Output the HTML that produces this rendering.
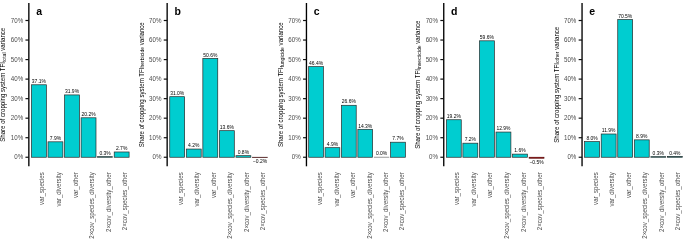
<!DOCTYPE html>
<html><head><meta charset="utf-8"><title>Variance shares</title>
<style>html,body{margin:0;padding:0;background:#fff}svg{display:block}text{font-family:"Liberation Sans",sans-serif}.k{stroke:#000;stroke-width:0px}.b{stroke:#000;stroke-width:0px}.g{stroke:#4d4d4d;stroke-width:0px}</style></head><body>
<svg width="685" height="242" viewBox="0 0 685 242">
<rect width="685" height="242" fill="#fff"/>
<g>
<rect x="31.45" y="84.78" width="14.90" height="72.47" fill="#00CDD0" stroke="#262626" stroke-width="0.68"/>
<text transform="translate(38.90,82.98) scale(0.9434,1)" font-size="5.300" text-anchor="middle" fill="#000" class="b">37.1%</text>
<rect x="48.00" y="141.82" width="14.90" height="15.43" fill="#00CDD0" stroke="#262626" stroke-width="0.68"/>
<text transform="translate(55.45,140.02) scale(0.9434,1)" font-size="5.300" text-anchor="middle" fill="#000" class="b">7.9%</text>
<rect x="64.55" y="94.93" width="14.90" height="62.32" fill="#00CDD0" stroke="#262626" stroke-width="0.68"/>
<text transform="translate(72.00,93.13) scale(0.9434,1)" font-size="5.300" text-anchor="middle" fill="#000" class="b">31.9%</text>
<rect x="81.10" y="117.79" width="14.90" height="39.46" fill="#00CDD0" stroke="#262626" stroke-width="0.68"/>
<text transform="translate(88.55,115.99) scale(0.9434,1)" font-size="5.300" text-anchor="middle" fill="#000" class="b">20.2%</text>
<rect x="97.65" y="156.66" width="14.90" height="0.59" fill="#00CDD0" stroke="#262626" stroke-width="0.68"/>
<text transform="translate(105.10,154.86) scale(0.9434,1)" font-size="5.300" text-anchor="middle" fill="#000" class="b">0.3%</text>
<rect x="114.20" y="151.98" width="14.90" height="5.27" fill="#00CDD0" stroke="#262626" stroke-width="0.68"/>
<text transform="translate(121.65,150.18) scale(0.9434,1)" font-size="5.300" text-anchor="middle" fill="#000" class="b">2.7%</text>
<line x1="28.85" y1="3" x2="28.85" y2="166.3" stroke="#000" stroke-width="1.35"/>
<line x1="25.45" y1="157.25" x2="28.85" y2="157.25" stroke="#111" stroke-width="1.2"/>
<text transform="translate(23.15,159.45) scale(0.9434,1)" font-size="6.572" text-anchor="end" fill="#4d4d4d" class="g">0%</text>
<line x1="25.45" y1="137.72" x2="28.85" y2="137.72" stroke="#111" stroke-width="1.2"/>
<text transform="translate(23.15,139.91) scale(0.9434,1)" font-size="6.572" text-anchor="end" fill="#4d4d4d" class="g">10%</text>
<line x1="25.45" y1="118.18" x2="28.85" y2="118.18" stroke="#111" stroke-width="1.2"/>
<text transform="translate(23.15,120.38) scale(0.9434,1)" font-size="6.572" text-anchor="end" fill="#4d4d4d" class="g">20%</text>
<line x1="25.45" y1="98.64" x2="28.85" y2="98.64" stroke="#111" stroke-width="1.2"/>
<text transform="translate(23.15,100.84) scale(0.9434,1)" font-size="6.572" text-anchor="end" fill="#4d4d4d" class="g">30%</text>
<line x1="25.45" y1="79.11" x2="28.85" y2="79.11" stroke="#111" stroke-width="1.2"/>
<text transform="translate(23.15,81.31) scale(0.9434,1)" font-size="6.572" text-anchor="end" fill="#4d4d4d" class="g">40%</text>
<line x1="25.45" y1="59.58" x2="28.85" y2="59.58" stroke="#111" stroke-width="1.2"/>
<text transform="translate(23.15,61.78) scale(0.9434,1)" font-size="6.572" text-anchor="end" fill="#4d4d4d" class="g">50%</text>
<line x1="25.45" y1="40.04" x2="28.85" y2="40.04" stroke="#111" stroke-width="1.2"/>
<text transform="translate(23.15,42.24) scale(0.9434,1)" font-size="6.572" text-anchor="end" fill="#4d4d4d" class="g">60%</text>
<line x1="25.45" y1="20.50" x2="28.85" y2="20.50" stroke="#111" stroke-width="1.2"/>
<text transform="translate(23.15,22.70) scale(0.9434,1)" font-size="6.572" text-anchor="end" fill="#4d4d4d" class="g">70%</text>
<text x="36.15" y="14.8" font-size="10.5" font-weight="bold" fill="#000">a</text>
<text transform="translate(5.30,84.75) rotate(-90) scale(0.9434,1)" font-size="6.455" text-anchor="middle" fill="#000" class="k">Share of cropping system TFI<tspan font-size="5.406" dy="0.85">total</tspan><tspan dy="-0.85"> variance</tspan></text>
<text transform="translate(44.40,172.30) rotate(-90) scale(0.9434,1)" font-size="6.487" text-anchor="end" fill="#4d4d4d" class="g">var_species</text>
<text transform="translate(60.95,172.30) rotate(-90) scale(0.9434,1)" font-size="6.487" text-anchor="end" fill="#4d4d4d" class="g">var_diversity</text>
<text transform="translate(77.50,172.30) rotate(-90) scale(0.9434,1)" font-size="6.487" text-anchor="end" fill="#4d4d4d" class="g">var_other</text>
<text transform="translate(94.05,172.30) rotate(-90) scale(0.9434,1)" font-size="6.487" text-anchor="end" fill="#4d4d4d" class="g">2×cov_species_diversity</text>
<text transform="translate(110.60,172.30) rotate(-90) scale(0.9434,1)" font-size="6.487" text-anchor="end" fill="#4d4d4d" class="g">2×cov_diversity_other</text>
<text transform="translate(127.15,172.30) rotate(-90) scale(0.9434,1)" font-size="6.487" text-anchor="end" fill="#4d4d4d" class="g">2×cov_species_other</text>
</g>
<g>
<rect x="169.75" y="96.69" width="14.90" height="60.56" fill="#00CDD0" stroke="#262626" stroke-width="0.68"/>
<text transform="translate(177.20,94.89) scale(0.9434,1)" font-size="5.300" text-anchor="middle" fill="#000" class="b">31.0%</text>
<rect x="186.30" y="149.05" width="14.90" height="8.20" fill="#00CDD0" stroke="#262626" stroke-width="0.68"/>
<text transform="translate(193.75,147.25) scale(0.9434,1)" font-size="5.300" text-anchor="middle" fill="#000" class="b">4.2%</text>
<rect x="202.85" y="58.40" width="14.90" height="98.85" fill="#00CDD0" stroke="#262626" stroke-width="0.68"/>
<text transform="translate(210.30,56.60) scale(0.9434,1)" font-size="5.300" text-anchor="middle" fill="#000" class="b">50.6%</text>
<rect x="219.40" y="130.68" width="14.90" height="26.57" fill="#00CDD0" stroke="#262626" stroke-width="0.68"/>
<text transform="translate(226.85,128.88) scale(0.9434,1)" font-size="5.300" text-anchor="middle" fill="#000" class="b">13.6%</text>
<rect x="235.95" y="155.69" width="14.90" height="1.56" fill="#00CDD0" stroke="#262626" stroke-width="0.68"/>
<text transform="translate(243.40,153.89) scale(0.9434,1)" font-size="5.300" text-anchor="middle" fill="#000" class="b">0.8%</text>
<rect x="252.50" y="157.25" width="14.90" height="0.39" fill="#EE0000" stroke="#2b1818" stroke-width="0.68"/>
<text transform="translate(259.95,163.24) scale(0.9434,1)" font-size="5.300" text-anchor="middle" fill="#000" class="b">−0.2%</text>
<line x1="167.15" y1="3" x2="167.15" y2="166.3" stroke="#000" stroke-width="1.35"/>
<line x1="163.75" y1="157.25" x2="167.15" y2="157.25" stroke="#111" stroke-width="1.2"/>
<text transform="translate(161.45,159.45) scale(0.9434,1)" font-size="6.572" text-anchor="end" fill="#4d4d4d" class="g">0%</text>
<line x1="163.75" y1="137.72" x2="167.15" y2="137.72" stroke="#111" stroke-width="1.2"/>
<text transform="translate(161.45,139.91) scale(0.9434,1)" font-size="6.572" text-anchor="end" fill="#4d4d4d" class="g">10%</text>
<line x1="163.75" y1="118.18" x2="167.15" y2="118.18" stroke="#111" stroke-width="1.2"/>
<text transform="translate(161.45,120.38) scale(0.9434,1)" font-size="6.572" text-anchor="end" fill="#4d4d4d" class="g">20%</text>
<line x1="163.75" y1="98.64" x2="167.15" y2="98.64" stroke="#111" stroke-width="1.2"/>
<text transform="translate(161.45,100.84) scale(0.9434,1)" font-size="6.572" text-anchor="end" fill="#4d4d4d" class="g">30%</text>
<line x1="163.75" y1="79.11" x2="167.15" y2="79.11" stroke="#111" stroke-width="1.2"/>
<text transform="translate(161.45,81.31) scale(0.9434,1)" font-size="6.572" text-anchor="end" fill="#4d4d4d" class="g">40%</text>
<line x1="163.75" y1="59.58" x2="167.15" y2="59.58" stroke="#111" stroke-width="1.2"/>
<text transform="translate(161.45,61.78) scale(0.9434,1)" font-size="6.572" text-anchor="end" fill="#4d4d4d" class="g">50%</text>
<line x1="163.75" y1="40.04" x2="167.15" y2="40.04" stroke="#111" stroke-width="1.2"/>
<text transform="translate(161.45,42.24) scale(0.9434,1)" font-size="6.572" text-anchor="end" fill="#4d4d4d" class="g">60%</text>
<line x1="163.75" y1="20.50" x2="167.15" y2="20.50" stroke="#111" stroke-width="1.2"/>
<text transform="translate(161.45,22.70) scale(0.9434,1)" font-size="6.572" text-anchor="end" fill="#4d4d4d" class="g">70%</text>
<text x="174.45" y="14.8" font-size="10.5" font-weight="bold" fill="#000">b</text>
<text transform="translate(143.60,84.75) rotate(-90) scale(0.9434,1)" font-size="6.455" text-anchor="middle" fill="#000" class="k">Share of cropping system TFI<tspan font-size="5.406" dy="0.85">herbicide</tspan><tspan dy="-0.85"> variance</tspan></text>
<text transform="translate(182.70,172.30) rotate(-90) scale(0.9434,1)" font-size="6.487" text-anchor="end" fill="#4d4d4d" class="g">var_species</text>
<text transform="translate(199.25,172.30) rotate(-90) scale(0.9434,1)" font-size="6.487" text-anchor="end" fill="#4d4d4d" class="g">var_diversity</text>
<text transform="translate(215.80,172.30) rotate(-90) scale(0.9434,1)" font-size="6.487" text-anchor="end" fill="#4d4d4d" class="g">var_other</text>
<text transform="translate(232.35,172.30) rotate(-90) scale(0.9434,1)" font-size="6.487" text-anchor="end" fill="#4d4d4d" class="g">2×cov_species_diversity</text>
<text transform="translate(248.90,172.30) rotate(-90) scale(0.9434,1)" font-size="6.487" text-anchor="end" fill="#4d4d4d" class="g">2×cov_diversity_other</text>
<text transform="translate(265.45,172.30) rotate(-90) scale(0.9434,1)" font-size="6.487" text-anchor="end" fill="#4d4d4d" class="g">2×cov_species_other</text>
</g>
<g>
<rect x="308.68" y="66.61" width="14.75" height="90.64" fill="#00CDD0" stroke="#262626" stroke-width="0.68"/>
<text transform="translate(316.05,64.81) scale(0.9434,1)" font-size="5.300" text-anchor="middle" fill="#000" class="b">46.4%</text>
<rect x="325.07" y="147.68" width="14.75" height="9.57" fill="#00CDD0" stroke="#262626" stroke-width="0.68"/>
<text transform="translate(332.44,145.88) scale(0.9434,1)" font-size="5.300" text-anchor="middle" fill="#000" class="b">4.9%</text>
<rect x="341.46" y="105.29" width="14.75" height="51.96" fill="#00CDD0" stroke="#262626" stroke-width="0.68"/>
<text transform="translate(348.83,103.49) scale(0.9434,1)" font-size="5.300" text-anchor="middle" fill="#000" class="b">26.6%</text>
<rect x="357.85" y="129.31" width="14.75" height="27.94" fill="#00CDD0" stroke="#262626" stroke-width="0.68"/>
<text transform="translate(365.22,127.51) scale(0.9434,1)" font-size="5.300" text-anchor="middle" fill="#000" class="b">14.3%</text>
<line x1="373.94" y1="157.25" x2="389.29" y2="157.25" stroke="#444" stroke-width="0.55"/>
<text transform="translate(381.61,155.45) scale(0.9434,1)" font-size="5.300" text-anchor="middle" fill="#000" class="b">0.0%</text>
<rect x="390.63" y="142.21" width="14.75" height="15.04" fill="#00CDD0" stroke="#262626" stroke-width="0.68"/>
<text transform="translate(398.00,140.41) scale(0.9434,1)" font-size="5.300" text-anchor="middle" fill="#000" class="b">7.7%</text>
<line x1="306.45" y1="3" x2="306.45" y2="166.3" stroke="#000" stroke-width="1.35"/>
<line x1="303.05" y1="157.25" x2="306.45" y2="157.25" stroke="#111" stroke-width="1.2"/>
<text transform="translate(300.75,159.45) scale(0.9434,1)" font-size="6.572" text-anchor="end" fill="#4d4d4d" class="g">0%</text>
<line x1="303.05" y1="137.72" x2="306.45" y2="137.72" stroke="#111" stroke-width="1.2"/>
<text transform="translate(300.75,139.91) scale(0.9434,1)" font-size="6.572" text-anchor="end" fill="#4d4d4d" class="g">10%</text>
<line x1="303.05" y1="118.18" x2="306.45" y2="118.18" stroke="#111" stroke-width="1.2"/>
<text transform="translate(300.75,120.38) scale(0.9434,1)" font-size="6.572" text-anchor="end" fill="#4d4d4d" class="g">20%</text>
<line x1="303.05" y1="98.64" x2="306.45" y2="98.64" stroke="#111" stroke-width="1.2"/>
<text transform="translate(300.75,100.84) scale(0.9434,1)" font-size="6.572" text-anchor="end" fill="#4d4d4d" class="g">30%</text>
<line x1="303.05" y1="79.11" x2="306.45" y2="79.11" stroke="#111" stroke-width="1.2"/>
<text transform="translate(300.75,81.31) scale(0.9434,1)" font-size="6.572" text-anchor="end" fill="#4d4d4d" class="g">40%</text>
<line x1="303.05" y1="59.58" x2="306.45" y2="59.58" stroke="#111" stroke-width="1.2"/>
<text transform="translate(300.75,61.78) scale(0.9434,1)" font-size="6.572" text-anchor="end" fill="#4d4d4d" class="g">50%</text>
<line x1="303.05" y1="40.04" x2="306.45" y2="40.04" stroke="#111" stroke-width="1.2"/>
<text transform="translate(300.75,42.24) scale(0.9434,1)" font-size="6.572" text-anchor="end" fill="#4d4d4d" class="g">60%</text>
<line x1="303.05" y1="20.50" x2="306.45" y2="20.50" stroke="#111" stroke-width="1.2"/>
<text transform="translate(300.75,22.70) scale(0.9434,1)" font-size="6.572" text-anchor="end" fill="#4d4d4d" class="g">70%</text>
<text x="313.75" y="14.8" font-size="10.5" font-weight="bold" fill="#000">c</text>
<text transform="translate(282.90,84.75) rotate(-90) scale(0.9434,1)" font-size="6.455" text-anchor="middle" fill="#000" class="k">Share of cropping system TFI<tspan font-size="5.406" dy="0.85">fungicide</tspan><tspan dy="-0.85"> variance</tspan></text>
<text transform="translate(322.45,172.30) rotate(-90) scale(0.9434,1)" font-size="6.487" text-anchor="end" fill="#4d4d4d" class="g">var_species</text>
<text transform="translate(338.84,172.30) rotate(-90) scale(0.9434,1)" font-size="6.487" text-anchor="end" fill="#4d4d4d" class="g">var_diversity</text>
<text transform="translate(355.23,172.30) rotate(-90) scale(0.9434,1)" font-size="6.487" text-anchor="end" fill="#4d4d4d" class="g">var_other</text>
<text transform="translate(371.62,172.30) rotate(-90) scale(0.9434,1)" font-size="6.487" text-anchor="end" fill="#4d4d4d" class="g">2×cov_species_diversity</text>
<text transform="translate(388.01,172.30) rotate(-90) scale(0.9434,1)" font-size="6.487" text-anchor="end" fill="#4d4d4d" class="g">2×cov_diversity_other</text>
<text transform="translate(404.40,172.30) rotate(-90) scale(0.9434,1)" font-size="6.487" text-anchor="end" fill="#4d4d4d" class="g">2×cov_species_other</text>
</g>
<g>
<rect x="446.35" y="119.74" width="14.90" height="37.51" fill="#00CDD0" stroke="#262626" stroke-width="0.68"/>
<text transform="translate(453.80,117.94) scale(0.9434,1)" font-size="5.300" text-anchor="middle" fill="#000" class="b">19.2%</text>
<rect x="462.90" y="143.18" width="14.90" height="14.07" fill="#00CDD0" stroke="#262626" stroke-width="0.68"/>
<text transform="translate(470.35,141.38) scale(0.9434,1)" font-size="5.300" text-anchor="middle" fill="#000" class="b">7.2%</text>
<rect x="479.45" y="40.82" width="14.90" height="116.43" fill="#00CDD0" stroke="#262626" stroke-width="0.68"/>
<text transform="translate(486.90,39.02) scale(0.9434,1)" font-size="5.300" text-anchor="middle" fill="#000" class="b">59.6%</text>
<rect x="496.00" y="132.05" width="14.90" height="25.20" fill="#00CDD0" stroke="#262626" stroke-width="0.68"/>
<text transform="translate(503.45,130.25) scale(0.9434,1)" font-size="5.300" text-anchor="middle" fill="#000" class="b">12.9%</text>
<rect x="512.55" y="154.12" width="14.90" height="3.13" fill="#00CDD0" stroke="#262626" stroke-width="0.68"/>
<text transform="translate(520.00,152.32) scale(0.9434,1)" font-size="5.300" text-anchor="middle" fill="#000" class="b">1.6%</text>
<rect x="529.10" y="157.25" width="14.90" height="0.98" fill="#EE0000" stroke="#4a0d0d" stroke-width="0.68"/>
<text transform="translate(536.55,163.83) scale(0.9434,1)" font-size="5.300" text-anchor="middle" fill="#000" class="b">−0.5%</text>
<line x1="443.75" y1="3" x2="443.75" y2="166.3" stroke="#000" stroke-width="1.35"/>
<line x1="440.35" y1="157.25" x2="443.75" y2="157.25" stroke="#111" stroke-width="1.2"/>
<text transform="translate(438.05,159.45) scale(0.9434,1)" font-size="6.572" text-anchor="end" fill="#4d4d4d" class="g">0%</text>
<line x1="440.35" y1="137.72" x2="443.75" y2="137.72" stroke="#111" stroke-width="1.2"/>
<text transform="translate(438.05,139.91) scale(0.9434,1)" font-size="6.572" text-anchor="end" fill="#4d4d4d" class="g">10%</text>
<line x1="440.35" y1="118.18" x2="443.75" y2="118.18" stroke="#111" stroke-width="1.2"/>
<text transform="translate(438.05,120.38) scale(0.9434,1)" font-size="6.572" text-anchor="end" fill="#4d4d4d" class="g">20%</text>
<line x1="440.35" y1="98.64" x2="443.75" y2="98.64" stroke="#111" stroke-width="1.2"/>
<text transform="translate(438.05,100.84) scale(0.9434,1)" font-size="6.572" text-anchor="end" fill="#4d4d4d" class="g">30%</text>
<line x1="440.35" y1="79.11" x2="443.75" y2="79.11" stroke="#111" stroke-width="1.2"/>
<text transform="translate(438.05,81.31) scale(0.9434,1)" font-size="6.572" text-anchor="end" fill="#4d4d4d" class="g">40%</text>
<line x1="440.35" y1="59.58" x2="443.75" y2="59.58" stroke="#111" stroke-width="1.2"/>
<text transform="translate(438.05,61.78) scale(0.9434,1)" font-size="6.572" text-anchor="end" fill="#4d4d4d" class="g">50%</text>
<line x1="440.35" y1="40.04" x2="443.75" y2="40.04" stroke="#111" stroke-width="1.2"/>
<text transform="translate(438.05,42.24) scale(0.9434,1)" font-size="6.572" text-anchor="end" fill="#4d4d4d" class="g">60%</text>
<line x1="440.35" y1="20.50" x2="443.75" y2="20.50" stroke="#111" stroke-width="1.2"/>
<text transform="translate(438.05,22.70) scale(0.9434,1)" font-size="6.572" text-anchor="end" fill="#4d4d4d" class="g">70%</text>
<text x="451.05" y="14.8" font-size="10.5" font-weight="bold" fill="#000">d</text>
<text transform="translate(420.20,84.75) rotate(-90) scale(0.9434,1)" font-size="6.455" text-anchor="middle" fill="#000" class="k">Share of cropping system TFI<tspan font-size="5.406" dy="0.85">insecticide</tspan><tspan dy="-0.85"> variance</tspan></text>
<text transform="translate(459.30,172.30) rotate(-90) scale(0.9434,1)" font-size="6.487" text-anchor="end" fill="#4d4d4d" class="g">var_species</text>
<text transform="translate(475.85,172.30) rotate(-90) scale(0.9434,1)" font-size="6.487" text-anchor="end" fill="#4d4d4d" class="g">var_diversity</text>
<text transform="translate(492.40,172.30) rotate(-90) scale(0.9434,1)" font-size="6.487" text-anchor="end" fill="#4d4d4d" class="g">var_other</text>
<text transform="translate(508.95,172.30) rotate(-90) scale(0.9434,1)" font-size="6.487" text-anchor="end" fill="#4d4d4d" class="g">2×cov_species_diversity</text>
<text transform="translate(525.50,172.30) rotate(-90) scale(0.9434,1)" font-size="6.487" text-anchor="end" fill="#4d4d4d" class="g">2×cov_diversity_other</text>
<text transform="translate(542.05,172.30) rotate(-90) scale(0.9434,1)" font-size="6.487" text-anchor="end" fill="#4d4d4d" class="g">2×cov_species_other</text>
</g>
<g>
<rect x="584.65" y="141.62" width="14.90" height="15.63" fill="#00CDD0" stroke="#262626" stroke-width="0.68"/>
<text transform="translate(592.10,139.82) scale(0.9434,1)" font-size="5.300" text-anchor="middle" fill="#000" class="b">8.0%</text>
<rect x="601.20" y="134.00" width="14.90" height="23.25" fill="#00CDD0" stroke="#262626" stroke-width="0.68"/>
<text transform="translate(608.65,132.20) scale(0.9434,1)" font-size="5.300" text-anchor="middle" fill="#000" class="b">11.9%</text>
<rect x="617.75" y="19.53" width="14.90" height="137.72" fill="#00CDD0" stroke="#262626" stroke-width="0.68"/>
<text transform="translate(625.20,17.73) scale(0.9434,1)" font-size="5.300" text-anchor="middle" fill="#000" class="b">70.5%</text>
<rect x="634.30" y="139.86" width="14.90" height="17.39" fill="#00CDD0" stroke="#262626" stroke-width="0.68"/>
<text transform="translate(641.75,138.06) scale(0.9434,1)" font-size="5.300" text-anchor="middle" fill="#000" class="b">8.9%</text>
<rect x="650.85" y="156.66" width="14.90" height="0.59" fill="#00CDD0" stroke="#262626" stroke-width="0.68"/>
<text transform="translate(658.30,154.86) scale(0.9434,1)" font-size="5.300" text-anchor="middle" fill="#000" class="b">0.3%</text>
<rect x="667.40" y="156.47" width="14.90" height="0.78" fill="#00CDD0" stroke="#262626" stroke-width="0.68"/>
<text transform="translate(674.85,154.67) scale(0.9434,1)" font-size="5.300" text-anchor="middle" fill="#000" class="b">0.4%</text>
<line x1="582.05" y1="3" x2="582.05" y2="166.3" stroke="#000" stroke-width="1.35"/>
<line x1="578.65" y1="157.25" x2="582.05" y2="157.25" stroke="#111" stroke-width="1.2"/>
<text transform="translate(576.35,159.45) scale(0.9434,1)" font-size="6.572" text-anchor="end" fill="#4d4d4d" class="g">0%</text>
<line x1="578.65" y1="137.72" x2="582.05" y2="137.72" stroke="#111" stroke-width="1.2"/>
<text transform="translate(576.35,139.91) scale(0.9434,1)" font-size="6.572" text-anchor="end" fill="#4d4d4d" class="g">10%</text>
<line x1="578.65" y1="118.18" x2="582.05" y2="118.18" stroke="#111" stroke-width="1.2"/>
<text transform="translate(576.35,120.38) scale(0.9434,1)" font-size="6.572" text-anchor="end" fill="#4d4d4d" class="g">20%</text>
<line x1="578.65" y1="98.64" x2="582.05" y2="98.64" stroke="#111" stroke-width="1.2"/>
<text transform="translate(576.35,100.84) scale(0.9434,1)" font-size="6.572" text-anchor="end" fill="#4d4d4d" class="g">30%</text>
<line x1="578.65" y1="79.11" x2="582.05" y2="79.11" stroke="#111" stroke-width="1.2"/>
<text transform="translate(576.35,81.31) scale(0.9434,1)" font-size="6.572" text-anchor="end" fill="#4d4d4d" class="g">40%</text>
<line x1="578.65" y1="59.58" x2="582.05" y2="59.58" stroke="#111" stroke-width="1.2"/>
<text transform="translate(576.35,61.78) scale(0.9434,1)" font-size="6.572" text-anchor="end" fill="#4d4d4d" class="g">50%</text>
<line x1="578.65" y1="40.04" x2="582.05" y2="40.04" stroke="#111" stroke-width="1.2"/>
<text transform="translate(576.35,42.24) scale(0.9434,1)" font-size="6.572" text-anchor="end" fill="#4d4d4d" class="g">60%</text>
<line x1="578.65" y1="20.50" x2="582.05" y2="20.50" stroke="#111" stroke-width="1.2"/>
<text transform="translate(576.35,22.70) scale(0.9434,1)" font-size="6.572" text-anchor="end" fill="#4d4d4d" class="g">70%</text>
<text x="589.35" y="14.8" font-size="10.5" font-weight="bold" fill="#000">e</text>
<text transform="translate(558.50,84.75) rotate(-90) scale(0.9434,1)" font-size="6.455" text-anchor="middle" fill="#000" class="k">Share of cropping system TFI<tspan font-size="5.406" dy="0.85">other</tspan><tspan dy="-0.85"> variance</tspan></text>
<text transform="translate(597.60,172.30) rotate(-90) scale(0.9434,1)" font-size="6.487" text-anchor="end" fill="#4d4d4d" class="g">var_species</text>
<text transform="translate(614.15,172.30) rotate(-90) scale(0.9434,1)" font-size="6.487" text-anchor="end" fill="#4d4d4d" class="g">var_diversity</text>
<text transform="translate(630.70,172.30) rotate(-90) scale(0.9434,1)" font-size="6.487" text-anchor="end" fill="#4d4d4d" class="g">var_other</text>
<text transform="translate(647.25,172.30) rotate(-90) scale(0.9434,1)" font-size="6.487" text-anchor="end" fill="#4d4d4d" class="g">2×cov_species_diversity</text>
<text transform="translate(663.80,172.30) rotate(-90) scale(0.9434,1)" font-size="6.487" text-anchor="end" fill="#4d4d4d" class="g">2×cov_diversity_other</text>
<text transform="translate(680.35,172.30) rotate(-90) scale(0.9434,1)" font-size="6.487" text-anchor="end" fill="#4d4d4d" class="g">2×cov_species_other</text>
</g>
</svg></body></html>
